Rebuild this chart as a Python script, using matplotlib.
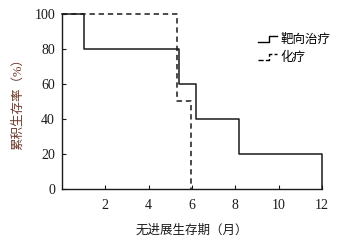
import matplotlib

matplotlib.use("Agg")

import matplotlib.pyplot as plt
from matplotlib.legend_handler import HandlerBase
from matplotlib.lines import Line2D

plt.rcParams["font.family"] = ["Liberation Serif", "Noto Sans CJK SC", "DejaVu Sans"]

# Kaplan-Meier style step data (months, % surviving)
targeted_t = [0, 1.0, 5.4, 6.2, 8.15, 12.0]
targeted_s = [100, 80, 60, 40, 20, 0]
chemo_t = [0, 5.3, 5.95]
chemo_s = [100, 50, 0]
x_ticks = [2, 4, 6, 8, 10, 12]
y_ticks = [0, 20, 40, 60, 80, 100]
labels = ["靶向治疗", "化疗"]


class StepHandler(HandlerBase):
    def create_artists(self, legend, orig, xd, yd, width, height, fontsize, trans):
        ls = orig.get_linestyle()
        xs = [xd, xd + width * 0.55, xd + width * 0.55, xd + width]
        ys = [yd + height * 0.15, yd + height * 0.15, yd + height * 0.75, yd + height * 0.75]
        line = Line2D(xs, ys, color="black", linewidth=1.0, linestyle=ls, transform=trans)
        return [line]


def steps(t, s):
    xs, ys = [t[0]], [s[0]]
    for i in range(1, len(t)):
        xs += [t[i], t[i]]
        ys += [s[i - 1], s[i]]
    return xs, ys


fig = plt.figure(figsize=(3.41, 2.40), dpi=100)
ax = fig.add_axes([0.182, 0.2125, 0.762, 0.7295])

tx, ty = steps(targeted_t, targeted_s)
cx, cy = steps(chemo_t, chemo_s)
h1, = ax.plot(tx, ty, color="#1a1a1a", linewidth=1.1, linestyle="-", clip_on=False)
h2, = ax.plot(cx, cy, color="#1a1a1a", linewidth=1.1, linestyle=(0, (3.5, 2.5)), clip_on=False)

ax.set_xlim(0, 12)
ax.set_ylim(0, 100)
ax.set_xticks(x_ticks)
ax.set_yticks(y_ticks)
ax.tick_params(direction="in", length=3, width=0.8, labelsize=10, colors="#1a1a1a")
ax.tick_params(axis="x", pad=7)
ax.tick_params(axis="y", pad=5)
for side in ["top", "right"]:
    ax.spines[side].set_visible(False)
for side in ["left", "bottom"]:
    ax.spines[side].set_linewidth(1.0)
    ax.spines[side].set_color("#1a1a1a")

ax.set_xlabel("无进展生存期（月）", fontsize=9, color="#1a1a1a", labelpad=9)
ax.set_ylabel("累积生存率（%）", fontsize=9, color="#6b3a2a", labelpad=7)

leg = ax.legend([h1, h2], labels, handler_map={Line2D: StepHandler()},
                loc="upper right", bbox_to_anchor=(1.075, 0.95), frameon=False,
                fontsize=9, handlelength=1.5, handletextpad=0.25, labelspacing=0.45)

fig.savefig("out.png", dpi=100)
